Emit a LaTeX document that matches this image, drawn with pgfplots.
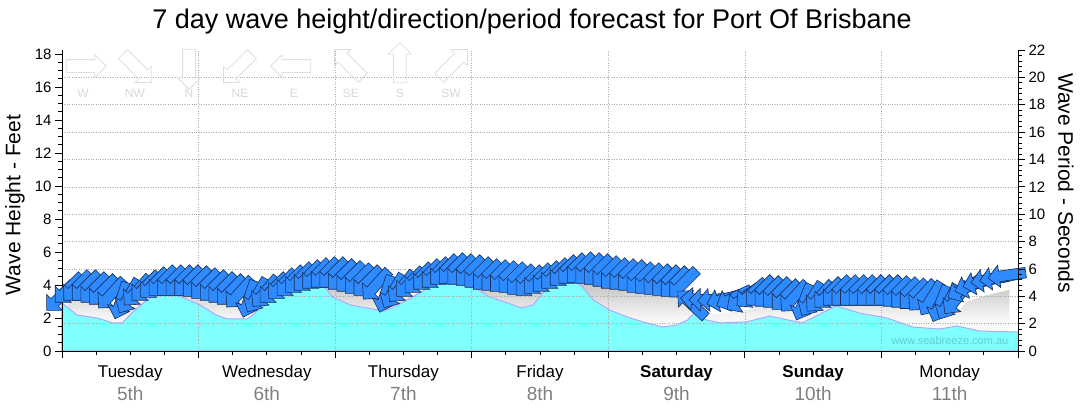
\documentclass[border=0pt]{standalone}
\usepackage{pgfplots}
\pgfplotsset{compat=1.18}
\usepackage{pgfplotstable}
\usepackage{fontspec}
\setmainfont{Liberation Sans}
\usetikzlibrary{shapes.arrows}

\definecolor{arrowfill}{RGB}{46,139,255}
\definecolor{arrowline}{RGB}{25,45,85}
\definecolor{swell}{RGB}{128,255,255}
\definecolor{swelledge}{RGB}{170,170,255}
\definecolor{gridgray}{RGB}{170,170,170}
\definecolor{legendgray}{RGB}{222,222,222}
\definecolor{legendtext}{RGB}{215,215,215}
\definecolor{dategray}{RGB}{128,128,128}
\definecolor{wmark}{RGB}{95,205,215}

\newcommand\datef[1]{{\color{dategray}\fontsize{19}{23}\selectfont #1}}

% wave height (ft) and direction of travel (deg, maths convention), every 1.5 h
\pgfplotstableread{
t h d
0.0000 3.39 225
0.0625 3.88 225
0.1250 4.00 225
0.1875 4.00 225
0.2500 3.88 225
0.3125 3.76 225
0.3750 3.58 228
0.4375 3.20 252
0.5000 3.45 240
0.5625 3.76 228
0.6250 4.00 225
0.6875 4.18 225
0.7500 4.30 225
0.8125 4.30 225
0.8750 4.30 225
0.9375 4.30 225
1.0000 4.24 225
1.0625 4.12 225
1.1250 4.00 225
1.1875 3.88 225
1.2500 3.76 225
1.3125 3.64 228
1.3750 3.30 252
1.4375 3.50 240
1.5000 3.70 230
1.5625 3.88 225
1.6250 4.12 225
1.6875 4.30 225
1.7500 4.48 225
1.8125 4.61 225
1.8750 4.73 225
1.9375 4.79 225
2.0000 4.79 225
2.0625 4.67 225
2.1250 4.55 225
2.1875 4.42 225
2.2500 4.30 225
2.3125 4.12 228
2.3750 3.60 252
2.4375 3.76 240
2.5000 4.00 230
2.5625 4.24 225
2.6250 4.48 225
2.6875 4.67 225
2.7500 4.79 225
2.8125 4.97 225
2.8750 5.03 225
2.9375 4.97 225
3.0000 4.91 225
3.0625 4.79 225
3.1250 4.67 225
3.1875 4.61 225
3.2500 4.55 225
3.3125 4.48 225
3.3750 4.36 225
3.4375 4.30 225
3.5000 4.42 225
3.5625 4.55 225
3.6250 4.73 225
3.6875 4.91 225
3.7500 5.03 225
3.8125 5.09 225
3.8750 5.03 225
3.9375 4.97 225
4.0000 4.85 225
4.0625 4.73 225
4.1250 4.67 225
4.1875 4.61 225
4.2500 4.48 225
4.3125 4.42 225
4.3750 4.36 225
4.4375 4.30 225
4.5000 4.24 225
4.5625 4.20 225
4.6250 2.73 137
4.6875 3.10 175
4.7500 3.10 180
4.8125 3.15 185
4.8750 3.20 195
4.9375 3.30 205
5.0000 3.27 215
5.0625 3.58 220
5.1250 3.70 225
5.1875 3.64 225
5.2500 3.58 225
5.3125 3.45 225
5.3750 3.39 228
5.4375 3.10 248
5.5000 3.27 238
5.5625 3.39 228
5.6250 3.58 225
5.6875 3.70 225
5.7500 3.70 225
5.8125 3.70 225
5.8750 3.70 225
5.9375 3.70 225
6.0000 3.70 225
6.0625 3.70 225
6.1250 3.64 225
6.1875 3.58 225
6.2500 3.50 225
6.3125 3.45 228
6.3750 3.30 238
6.4375 3.00 248
6.5000 3.10 242
6.5625 3.30 232
6.6250 3.88 210
6.6875 4.06 200
6.7500 4.24 195
6.8125 4.36 190
6.8750 4.48 190
6.9375 4.61 188
}\arrowdata

% cyan area (ft)
\pgfplotstableread{
t v
0.00 2.91
0.11 2.18
0.26 2.00
0.37 1.70
0.44 1.70
0.52 2.36
0.64 3.21
0.77 3.52
0.83 3.40
0.89 3.21
1.01 2.79
1.13 2.18
1.21 1.94
1.36 1.94
1.50 2.91
1.62 3.52
1.74 3.88
1.90 4.12
1.98 3.27
2.11 2.79
2.23 2.61
2.35 2.42
2.40 2.55
2.57 3.27
2.69 3.88
2.82 4.18
3.01 3.88
3.13 3.27
3.26 2.91
3.37 2.61
3.45 2.79
3.52 3.52
3.62 4.12
3.74 4.30
3.81 3.88
3.89 3.09
4.01 2.48
4.16 2.00
4.28 1.70
4.40 1.45
4.50 1.58
4.58 1.88
4.63 2.30
4.72 1.88
4.82 1.70
5.01 1.76
5.18 2.12
5.42 1.70
5.67 2.73
5.84 2.30
6.04 2.00
6.23 1.45
6.43 1.33
6.55 1.52
6.72 1.21
7.00 1.15
}\swelldata

% direction key
\pgfplotstableread{
t h ly a lab
0.154 17.27 15.64 0 W
0.534 17.27 15.64 -45 NW
0.930 17.27 15.64 -90 N
1.303 17.27 15.64 -135 NE
1.698 17.27 15.64 180 E
2.116 17.27 15.64 135 SE
2.474 17.27 15.64 90 S
2.848 17.27 15.64 45 SW
}\keydata

\begin{document}
\begin{tikzpicture}
\begin{axis}[
  scale only axis, width=956pt, height=301pt,
  xmin=0, xmax=7, ymin=0, ymax=18.24,
  clip=false, set layers,
  axis x line*=bottom, axis y line*=left,
  axis line style={black, line width=0.9pt},
  tick align=outside, major tick length=7pt, minor tick length=4pt,
  tick style={black, line width=0.8pt},
  xtick={0,...,7}, xticklabels={}, minor x tick num=3,
  ytick={0,2,...,18}, minor y tick num=3,
  xmajorgrids,
  grid style={gridgray, dotted, line width=0.5pt},
  extra y ticks={1.658,3.316,4.975,6.633,8.291,9.949,11.607,13.266,14.924,16.582},
  extra y tick labels={},
  extra y tick style={grid=major, major tick length=0pt},
  extra x ticks={0.5,1.5,2.5,3.5,4.5,5.5,6.5},
  extra x tick labels={Tuesday\\\datef{5th}, Wednesday\\\datef{6th}, Thursday\\\datef{7th}, Friday\\\datef{8th}, \textbf{Saturday}\\\datef{9th}, \textbf{Sunday}\\\datef{10th}, Monday\\\datef{11th}},
  extra x tick style={grid=none, major tick length=0pt, tick label style={align=center, yshift=-11pt, font=\fontsize{17}{23}\selectfont}},
  yticklabel style={font=\fontsize{15}{18}\selectfont},
  /pgf/number format/assume math mode=true,
]
% shadow under the arrows
\addplot[draw=none, top color=black!24, bottom color=white, middle color=black!4, on layer=axis background]
  table[x=t, y expr=\thisrow{h}-0.9] {\arrowdata} \closedcycle;
% cyan area
\addplot[fill=swell, draw=swelledge, line width=1pt, on layer=axis background]
  table[x=t, y=v] {\swelldata} \closedcycle;

% direction key
\addplot[draw=none, mark=none, nodes near coords={}, point meta=y,
  visualization depends on={\thisrow{a}\as\ang},
  every node near coord/.append style={anchor=center, rotate=\ang, single arrow,
    draw=legendgray, line width=0.8pt, minimum height=40pt, minimum width=22pt,
    single arrow head extend=5pt, inner xsep=0pt, inner ysep=6pt}]
  table[x=t, y=h] {\keydata};
\addplot[draw=none, mark=none, point meta=explicit symbolic, nodes near coords,
  every node near coord/.append style={anchor=center, text=legendtext,
    font=\fontsize{12}{12}\selectfont}]
  table[x=t, y=ly, meta=lab] {\keydata};

% wave direction arrows
\addplot[draw=none, mark=none, nodes near coords={}, point meta=y,
  visualization depends on={\thisrow{d}\as\ang},
  every node near coord/.append style={anchor=center, rotate=\ang, single arrow,
    draw=arrowline, fill=arrowfill, line width=0.6pt, minimum height=38pt,
    minimum width=22pt, single arrow head extend=6pt, inner xsep=0pt, inner ysep=5pt}]
  table[x=t, y=h] {\arrowdata};

\node[text=wmark, font=\fontsize{11}{11}\selectfont, anchor=east] at (axis cs:6.955,0.61) {www.seabreeze.com.au};
\node[font=\fontsize{27}{30}\selectfont] at ([xshift=-8pt, yshift=28pt]rel axis cs:0.5,1) {7 day wave height/direction/period forecast for Port Of Brisbane};
\node[rotate=90, font=\fontsize{21}{24}\selectfont] at ([xshift=-47pt]rel axis cs:0,0.485) {Wave Height - Feet};
\node[rotate=-90, font=\fontsize{21}{24}\selectfont] at ([xshift=48pt]rel axis cs:1,0.558) {Wave Period - Seconds};
\end{axis}

% wave period axis on the right
\begin{axis}[
  scale only axis, width=956pt, height=301pt,
  xmin=0, xmax=7, ymin=0, ymax=22,
  axis x line=none, axis y line*=right,
  axis line style={black, line width=0.9pt},
  tick align=outside, major tick length=7pt, minor tick length=4pt,
  tick style={black, line width=0.8pt},
  ytick={0,2,...,22}, minor y tick num=4,
  yticklabel style={font=\fontsize{15}{18}\selectfont},
  /pgf/number format/assume math mode=true,
]
\end{axis}
\pgfresetboundingbox
\path (-62pt,-63pt) rectangle (1018pt,351pt);
\end{tikzpicture}
\end{document}
